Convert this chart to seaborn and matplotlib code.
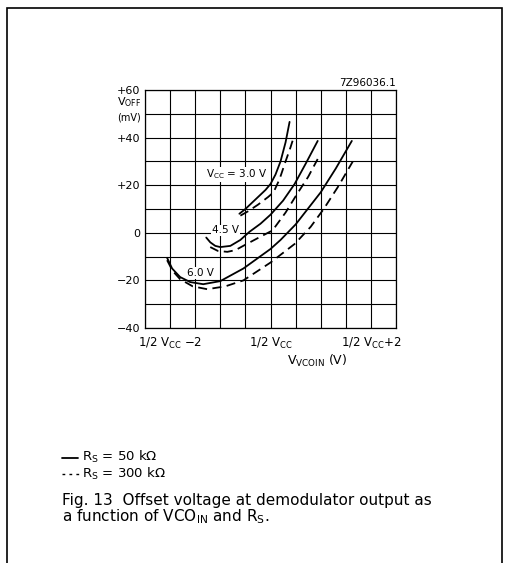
import numpy as np
import pandas as pd
import seaborn as sns
import matplotlib.pyplot as plt
from matplotlib.lines import Line2D
from matplotlib.patches import Rectangle

# curve data: x = V_VCOIN relative to 1/2 Vcc (V), y = V_OFF (mV)
x_30_50k = [-0.62, -0.5, -0.3, -0.1, 0.0, 0.1, 0.2, 0.3, 0.38]
y_30_50k = [8.0, 10.0, 14.0, 18.0, 20.5, 24.5, 30.0, 38.0, 46.6]
x_30_300k = [-0.6, -0.45, -0.25, -0.05, 0.06, 0.18, 0.3, 0.4, 0.46]
y_30_300k = [7.2, 9.0, 11.8, 15.0, 17.0, 22.5, 30.0, 36.0, 40.0]

x_45_50k = [-1.28, -1.2, -1.1, -1.0, -0.8, -0.6, -0.42, -0.2, 0.0, 0.25, 0.48, 0.7, 0.94]
y_45_50k = [-2.0, -4.0, -5.5, -6.0, -5.5, -3.0, 0.4, 3.8, 7.6, 13.5, 20.5, 29.0, 38.6]
x_45_300k = [-1.2, -1.05, -0.86, -0.7, -0.5, -0.25, 0.04, 0.3, 0.52, 0.75, 0.94]
y_45_300k = [-6.0, -7.6, -8.0, -7.3, -5.0, -2.2, 1.0, 8.5, 16.0, 23.5, 31.0]

x_60_50k = [-2.06, -1.96, -1.8, -1.6, -1.34, -1.0, -0.54, 0.0, 0.2, 0.5, 1.0, 1.3, 1.62]
y_60_50k = [-10.5, -15.0, -18.6, -20.7, -21.6, -20.3, -15.0, -6.8, -3.0, 3.5, 17.0, 27.0, 38.6]
x_60_300k = [-2.06, -1.95, -1.8, -1.55, -1.26, -0.9, -0.54, 0.0, 0.48, 0.8, 1.06, 1.35, 1.64]
y_60_300k = [-11.5, -16.0, -19.5, -22.5, -23.7, -22.5, -20.0, -12.5, -4.7, 2.5, 10.0, 19.5, 30.0]

curves = [
    (x_30_50k, y_30_50k, "50k"), (x_30_300k, y_30_300k, "300k"),
    (x_45_50k, y_45_50k, "50k"), (x_45_300k, y_45_300k, "300k"),
    (x_60_50k, y_60_50k, "50k"), (x_60_300k, y_60_300k, "300k"),
]

x_ticks = [-2, 0, 2]
x_ticklabels = [r"1/2 $\mathrm{V_{CC}}$ $-$2", r"1/2 $\mathrm{V_{CC}}$", r"1/2 $\mathrm{V_{CC}}$+2"]
y_ticks = [-40, -20, 0, 20, 40, 60]
y_ticklabels = ["\u221240", "\u221220", "0", "+20", "+40", "+60"]

sns.set_theme(style="white")
plt.rcParams['font.family'] = ['DejaVu Sans']
plt.rcParams['mathtext.fontset'] = 'dejavusans'
plt.rcParams['text.color'] = 'black'
plt.rcParams['xtick.color'] = 'black'
plt.rcParams['ytick.color'] = 'black'
plt.rcParams['axes.labelcolor'] = 'black'

W, H = 506, 563
fig = plt.figure(figsize=(W / 100, H / 100), dpi=100)
fig.patch.set_facecolor('white')

# page frame
fig.patches.append(Rectangle((7 / W, -0.01), 495 / W, 1 - 8 / H + 0.01, transform=fig.transFigure,
                             fill=False, edgecolor='black', linewidth=1.2))

ax = fig.add_axes([145 / W, 1 - 328 / H, 251 / W, 238 / H])
ax.set_xlim(-2.5, 2.5)
ax.set_ylim(-40, 60)

for xs, ys, rs in curves:
    df = pd.DataFrame({"x": xs, "y": ys})
    ls = '-' if rs == "50k" else (0, (5, 3))
    sns.lineplot(data=df, x="x", y="y", ax=ax, color='black', linewidth=1.3,
                 linestyle=ls, sort=False, estimator=None, clip_on=False)

ax.set_xticks(x_ticks)
ax.set_xticklabels(x_ticklabels, fontsize=8.5, color='black')
ax.set_xticks(np.arange(-2.5, 2.51, 0.5), minor=True)
ax.set_yticks(y_ticks)
ax.set_yticklabels(y_ticklabels, fontsize=8, color='black')
ax.set_yticks(np.arange(-40, 61, 10), minor=True)
ax.grid(True, which='both', color='black', linewidth=0.8)
ax.tick_params(axis='x', which='major', length=4, width=0.8, color='black', direction='out', pad=2)
ax.tick_params(axis='y', which='major', length=0, pad=3.5)
ax.tick_params(which='minor', length=0)
for s in ax.spines.values():
    s.set_color('black')
    s.set_linewidth(0.9)
ax.set_xlabel("")
ax.set_ylabel("")

# curve labels
bb = dict(facecolor='white', edgecolor='none', pad=0.5)
ax.text(-0.66, 24.5, r"$\mathrm{V_{CC}}$ = 3.0 V", fontsize=7.5, ha='center', va='center', bbox=bb)
ax.text(-0.9, 1.0, "4.5 V", fontsize=7.5, ha='center', va='center', bbox=bb)
ax.text(-1.4, -16.9, "6.0 V", fontsize=7.5, ha='center', va='center', bbox=bb)

# axis titles
fig.text(141 / W, 1 - 102 / H, r"$\mathrm{V_{OFF}}$", fontsize=8, ha='right', va='center')
fig.text(141 / W, 1 - 118 / H, "(mV)", fontsize=7, ha='right', va='center')
fig.text(317 / W, 1 - 361 / H, r"$\mathrm{V_{VCOIN}}$ (V)", fontsize=9, ha='center', va='center')
fig.text(396 / W, 1 - 83 / H, "7Z96036.1", fontsize=7.5, ha='right', va='center')

# legend
fig.lines.append(Line2D([62 / W, 78 / W], [1 - 458 / H] * 2, transform=fig.transFigure,
                        color='black', linewidth=1.3))
fig.lines.append(Line2D([62 / W, 79 / W], [1 - 474 / H] * 2, transform=fig.transFigure,
                        color='black', linewidth=1.0, linestyle=(0, (2, 3))))
fig.text(82 / W, 1 - 457 / H, r"$\mathrm{R_S}$ = 50 k" + "\u03a9", fontsize=9.5, ha='left', va='center')
fig.text(82 / W, 1 - 473.5 / H, r"$\mathrm{R_S}$ = 300 k" + "\u03a9", fontsize=9.5, ha='left', va='center')

# caption
fig.text(62 / W, 1 - 500 / H, "Fig. 13  Offset voltage at demodulator output as",
         fontsize=11, ha='left', va='center')
fig.text(62 / W, 1 - 517 / H, r"a function of VCO$_{\mathrm{IN}}$ and R$_{\mathrm{S}}$.",
         fontsize=11, ha='left', va='center')

fig.savefig("out.png", dpi=100, facecolor='white')
